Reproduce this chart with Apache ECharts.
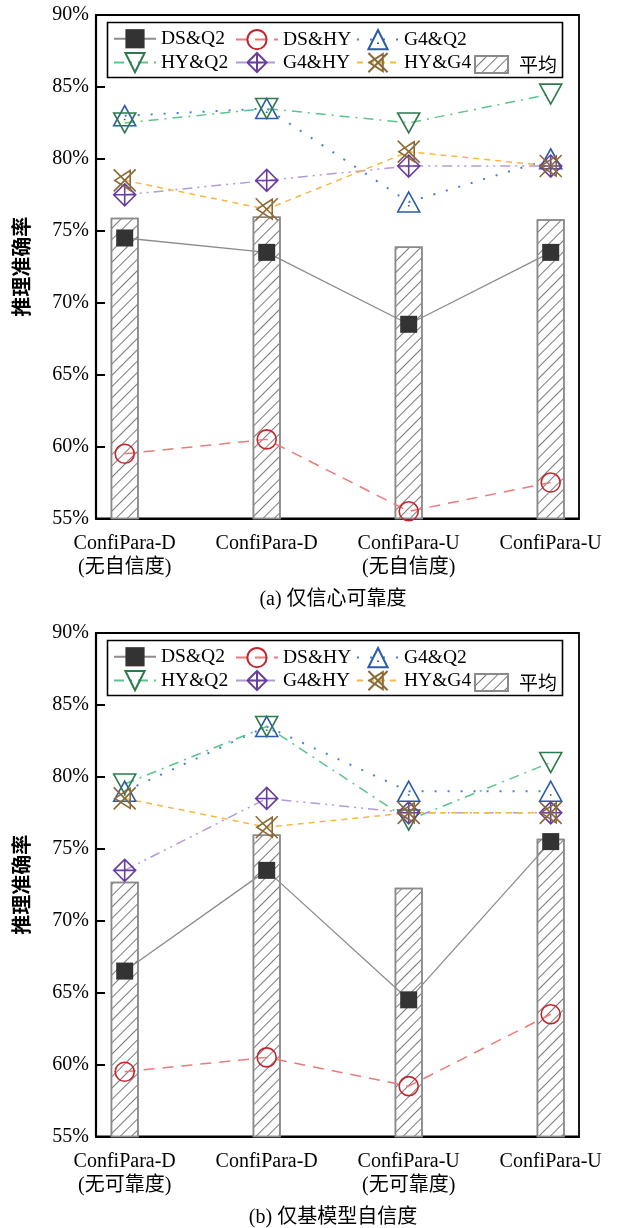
<!DOCTYPE html>
<html>
<head>
<meta charset="utf-8">
<script src="https://cdn.jsdelivr.net/npm/echarts@6/dist/echarts.min.js"></script>
<style>
  html, body { margin: 0; padding: 0; background: #fff; }
  #chart { width: 617px; height: 1228px; }
</style>
</head>
<body>
<div id="chart"></div>
<script>
// Category labels for the two panels
const categoriesA = ['ConfiPara-D\n(无自信度)', 'ConfiPara-D', 'ConfiPara-U\n(无自信度)', 'ConfiPara-U'];
const categoriesB = ['ConfiPara-D\n(无可靠度)', 'ConfiPara-D', 'ConfiPara-U\n(无可靠度)', 'ConfiPara-U'];

// Y axis range (percent)
const yMin = 55;
const yMax = 90;
const yStep = 5;

// Panel (a): 仅信心可靠度
const aDSQ2 = [74.5, 73.5, 68.5, 73.5];
const aDSHY = [59.5, 60.5, 55.5, 57.5];
const aG4Q2 = [83.0, 83.5, 77.0, 80.0];
const aHYQ2 = [82.5, 83.5, 82.5, 84.5];
const aG4HY = [77.5, 78.5, 79.5, 79.5];
const aHYG4 = [78.5, 76.5, 80.5, 79.5];
const aAvg  = [75.9, 76.0, 73.9, 75.8];

// Panel (b): 仅基模型自信度
const bDSQ2 = [66.5, 73.5, 64.5, 75.5];
const bDSHY = [59.5, 60.5, 58.5, 63.5];
const bG4Q2 = [79.0, 83.5, 79.0, 79.0];
const bHYQ2 = [79.5, 83.5, 77.0, 81.0];
const bG4HY = [73.5, 78.5, 77.5, 77.5];
const bHYG4 = [78.5, 76.5, 77.5, 77.5];
const bAvg  = [72.7, 76.0, 72.3, 75.7];

const SERIF = "'Liberation Serif', 'Times New Roman', 'Noto Sans CJK SC', serif";
const CJK = "'Noto Sans CJK SC', sans-serif";

// Marker outlines
const SYM_TRI_UP = 'path://M10,0 L20,17.3 L0,17.3 Z M10,11.2 L10,12.6';
const SYM_TRI_DOWN = 'path://M0,0 L20,0 L10,17.3 Z';
const SYM_DIAMOND_PLUS = 'path://M10,0 L20,10 L10,20 L0,10 Z M10,0 L10,20 M0,10 L20,10';
const SYM_X_TRI = 'path://M0,0 L20,20 M0,20 L20,0 M15,1 L15,19 L1,10 Z';

const lineDefs = [
  { name: 'DS&Q2', line: '#8c8c8c', lw: 1.3, type: 'solid', symbol: 'rect', size: 17, fill: '#333', stroke: '#333' },
  { name: 'DS&HY', line: '#ef7878', lw: 1.5, type: [11, 8], symbol: 'circle', size: 19, fill: 'transparent', stroke: '#c4262e' },
  { name: 'G4&Q2', line: '#4a80d4', lw: 2, type: [2, 11], symbol: SYM_TRI_UP, size: [22, 20], fill: 'transparent', stroke: '#2a5ba8' },
  { name: 'HY&Q2', line: '#5cc48c', lw: 1.5, type: [10, 6, 2, 6], symbol: SYM_TRI_DOWN, size: [22, 20], fill: 'transparent', stroke: '#2e7a4c' },
  { name: 'G4&HY', line: '#b49ad8', lw: 1.5, type: [10, 5, 2, 5, 2, 5], symbol: SYM_DIAMOND_PLUS, size: 22, fill: 'transparent', stroke: '#6a3e9e' },
  { name: 'HY&G4', line: '#f5b843', lw: 1.5, type: [6, 5], symbol: SYM_X_TRI, size: 22, fill: 'transparent', stroke: '#8b6a36' }
];

// Thin diagonal "/" hatch for the average bars
const hatch = {
  symbol: 'rect',
  symbolSize: 1,
  color: '#7a7a7a',
  dashArrayX: [1, 0],
  dashArrayY: [0.9, 6.2],
  rotation: -Math.PI / 4
};

function lineSeries(def, data, gridAxis) {
  return {
    type: 'line',
    name: def.name,
    data: data,
    xAxisIndex: gridAxis,
    yAxisIndex: gridAxis,
    symbol: def.symbol,
    symbolSize: def.size,
    lineStyle: { color: def.line, width: def.lw, type: def.type },
    itemStyle: { color: def.fill, borderColor: def.stroke, borderWidth: def.fill === 'transparent' ? 1.6 : 0 },
    z: 3,
    animation: false
  };
}

function barSeries(data, gridAxis) {
  return {
    type: 'bar',
    name: '平均',
    data: data,
    xAxisIndex: gridAxis,
    yAxisIndex: gridAxis,
    barWidth: 28,
    itemStyle: { color: '#fff', borderColor: '#8a8a8a', borderWidth: 1.5, decal: hatch },
    z: 1,
    animation: false
  };
}

// Panel geometry
const PANEL_OFFSET = 618;
const plotTop = 15, plotH = 503.5;
const frameLeft = 96, frameRight = 617 - 579;
const innerLeft = 124.7, innerRight = 617 - 550.7;

// Legend slots: [name, column left, row]
const legendSlots = [
  ['DS&Q2', 113, 0], ['DS&HY', 235, 0], ['G4&Q2', 356, 0],
  ['HY&Q2', 113, 1], ['G4&HY', 235, 1], ['HY&G4', 356, 1], ['平均', 474, 1]
];

const grids = [], xAxes = [], yAxes = [], legends = [], graphics = [], series = [];

function buildPanel(p, cats, vals, avg, caption) {
  const top = plotTop + p * PANEL_OFFSET;
  const outer = p * 2, inner = p * 2 + 1;
  grids.push({ left: frameLeft, right: frameRight, top: top, height: plotH, show: true, borderColor: '#000', borderWidth: 1.8, backgroundColor: 'transparent' });
  grids.push({ left: innerLeft, right: innerRight, top: top, height: plotH });

  xAxes.push({
    gridIndex: outer, type: 'value', min: 0, max: 1,
    axisLine: { show: true, onZero: false, lineStyle: { color: '#000', width: 2.2 } },
    axisTick: { show: false }, axisLabel: { show: false }, splitLine: { show: false }
  });
  xAxes.push({
    gridIndex: inner, type: 'category', data: cats, boundaryGap: false,
    axisLine: { show: false }, axisTick: { show: false },
    axisLabel: { show: true, interval: 0, margin: 13.5, color: '#000', fontFamily: SERIF, fontSize: 20, lineHeight: 24 }
  });
  yAxes.push({
    gridIndex: outer, type: 'value', min: yMin, max: yMax, interval: yStep,
    axisLine: { show: true, onZero: false, lineStyle: { color: '#000', width: 2.2 } },
    axisTick: { show: true, inside: true, length: 9, lineStyle: { color: '#000', width: 2 } },
    axisLabel: { formatter: '{value}%', color: '#000', fontFamily: SERIF, fontSize: 20, margin: 7 },
    splitLine: { show: false },
    name: '推理准确率', nameLocation: 'middle', nameGap: 65, nameRotate: 90,
    nameTextStyle: { color: '#000', fontFamily: CJK, fontWeight: 'bold', fontSize: 20 }
  });
  yAxes.push({ gridIndex: inner, type: 'value', min: yMin, max: yMax, show: false });

  series.push(barSeries(avg, inner));
  lineDefs.forEach((d, i) => series.push(lineSeries(d, vals[i], inner)));

  legendSlots.forEach(([name, left, row]) => {
    const isBar = name === '平均';
    legends.push({
      data: [isBar ? { name: name, icon: 'rect' } : name],
      left: left,
      top: top + (row === 0 ? 14 : 37) + (isBar ? 3 : 0),
      itemWidth: isBar ? 33 : 42,
      itemHeight: isBar ? 17 : 24,
      padding: 0,
      selectedMode: false,
      z: 6,
      textStyle: isBar
        ? { color: '#000', fontFamily: CJK, fontSize: 19, padding: [0, 0, 0, 6] }
        : { color: '#000', fontFamily: SERIF, fontSize: 19.5 }
    });
  });

  graphics.push({
    type: 'rect', z: 5,
    shape: { x: 107.5, y: top + 7.5, width: 455, height: 55 },
    style: { fill: '#fff', stroke: '#000', lineWidth: 1.6 }
  });
  graphics.push({
    type: 'text', z: 5, x: 333, y: top + 585,
    style: { text: caption, fill: '#000', font: "20px 'Liberation Serif', 'Noto Sans CJK SC', serif", textAlign: 'center', textVerticalAlign: 'middle' }
  });
}

buildPanel(0, categoriesA, [aDSQ2, aDSHY, aG4Q2, aHYQ2, aG4HY, aHYG4], aAvg, '(a) 仅信心可靠度');
buildPanel(1, categoriesB, [bDSQ2, bDSHY, bG4Q2, bHYQ2, bG4HY, bHYG4], bAvg, '(b) 仅基模型自信度');

const chart = echarts.init(document.getElementById('chart'), null, { renderer: 'canvas' });
chart.setOption({
  animation: false,
  backgroundColor: '#fff',
  textStyle: { fontFamily: SERIF },
  grid: grids,
  xAxis: xAxes,
  yAxis: yAxes,
  legend: legends,
  graphic: graphics,
  series: series
});
</script>
</body>
</html>
